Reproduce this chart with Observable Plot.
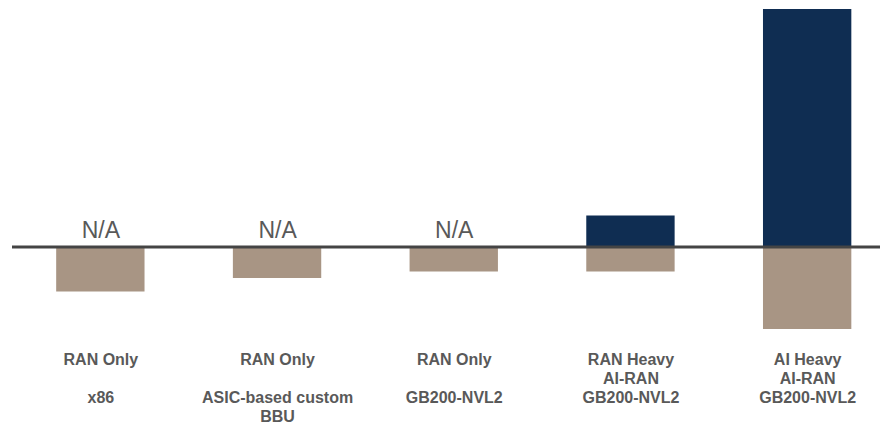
<!DOCTYPE html>
<html>
<head>
<meta charset="utf-8">
<script src="https://cdn.jsdelivr.net/npm/d3@7"></script>
<script src="https://cdn.jsdelivr.net/npm/@observablehq/plot@0.6"></script>
<style>
  html, body { margin: 0; padding: 0; background: #fff; }
  #chart svg { display: block; }
</style>
</head>
<body>
<div id="chart"></div>
<script>
// Categories (x)
const categories = ["x86", "ASIC", "GB200 RAN", "RAN Heavy", "AI Heavy"];
// Multi-line category labels
const categoryLabels = [
  "RAN Only\n\nx86",
  "RAN Only\n\nASIC-based custom\nBBU",
  "RAN Only\n\nGB200-NVL2",
  "RAN Heavy\nAI-RAN\nGB200-NVL2",
  "AI Heavy\nAI-RAN\nGB200-NVL2"
];
// Series values (relative units)
const positiveValues = [null, null, null, 31, 237.5];   // dark navy, above baseline
const negativeValues = [-45, -31.5, -25, -25, -82.5];   // tan, below baseline
const naLabel = "N/A";

const posData = categories.map((c, i) => ({cat: c, v: positiveValues[i]})).filter(d => d.v != null);
const negData = categories.map((c, i) => ({cat: c, v: negativeValues[i]}));
const naData = categories.map((c, i) => ({cat: c, v: positiveValues[i]})).filter(d => d.v == null);
const labelData = categories.map((c, i) => ({cat: c, label: categoryLabels[i]}));

const chart = Plot.plot({
  width: 880,
  height: 425,
  marginTop: 9,
  marginBottom: 96,
  marginLeft: 12,
  marginRight: 0,
  style: {background: "#fff", fontFamily: "'Liberation Sans', Arial, sans-serif", overflow: "visible"},
  x: {domain: categories, range: [12, 895.5], paddingInner: 0.5, paddingOuter: 0.25, round: false, axis: null},
  y: {domain: [-82.5, 237.5], axis: null},
  marks: [
    Plot.barY(negData, {x: "cat", y: "v", fill: "#a89584"}),
    Plot.barY(posData, {x: "cat", y: "v", fill: "#0f2d52"}),
    Plot.ruleY([0], {stroke: "#444", strokeWidth: 3}),
    Plot.text(naData, {x: "cat", y: () => 0, text: () => naLabel, lineAnchor: "bottom", dy: -9.5,
      fontSize: 23, fill: "#595959"}),
    Plot.text(labelData, {x: "cat", text: "label", frameAnchor: "bottom", lineAnchor: "top", dy: 22,
      lineHeight: 1.19, fontSize: 16, fontWeight: "bold", fill: "#595959"})
  ]
});
document.getElementById("chart").appendChild(chart);
</script>
</body>
</html>
